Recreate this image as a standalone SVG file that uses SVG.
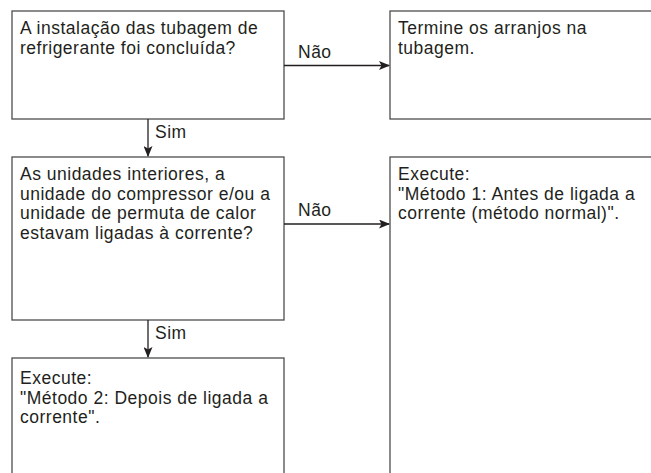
<svg xmlns="http://www.w3.org/2000/svg" width="651" height="473" viewBox="0 0 651 473">
<style>
.box{fill:#fff;stroke:#4d4d4d;stroke-width:1.3}
.t{font-family:"Liberation Sans",Arial,sans-serif;font-size:17.5px;letter-spacing:0.5px;fill:#231f20}
.c{stroke:#231f20;stroke-width:1.3;fill:none}
</style>
<defs>
<marker id="ah" markerWidth="11" markerHeight="9" refX="10" refY="4.5" orient="auto" markerUnits="userSpaceOnUse">
<path d="M0,0 L11,4.5 L0,9 L2.5,4.5 Z" fill="#231f20"/>
</marker>
</defs>
<rect width="651" height="473" fill="#fff"/>
<g id="q1">
<rect class="box" x="12" y="11" width="272" height="108"/>
<text class="t" x="20" y="34">A instalação das tubagem de</text>
<text class="t" x="20" y="53.5">refrigerante foi concluída?</text>
</g>
<g id="end1">
<rect class="box" x="390" y="11" width="270" height="108"/>
<text class="t" x="398" y="34">Termine os arranjos na</text>
<text class="t" x="398" y="53.5">tubagem.</text>
</g>
<g id="q2">
<rect class="box" x="12" y="157" width="272" height="163"/>
<text class="t" x="20" y="180">As unidades interiores, a</text>
<text class="t" x="20" y="199.5">unidade do compressor e/ou a</text>
<text class="t" x="20" y="219">unidade de permuta de calor</text>
<text class="t" x="20" y="238.5">estavam ligadas à corrente?</text>
</g>
<g id="m1">
<rect class="box" x="390" y="157" width="270" height="330"/>
<text class="t" x="398" y="180">Execute:</text>
<text class="t" x="398" y="199.5">"Método 1: Antes de ligada a</text>
<text class="t" x="398" y="219">corrente (método normal)".</text>
</g>
<g id="m2">
<rect class="box" x="12" y="358" width="272" height="130"/>
<text class="t" x="20" y="384">Execute:</text>
<text class="t" x="20" y="403.5">"Método 2: Depois de ligada a</text>
<text class="t" x="20" y="423">corrente".</text>
</g>
<g id="connectors">
<line class="c" x1="284" y1="65.5" x2="389" y2="65.5" marker-end="url(#ah)"/>
<text class="t" x="298" y="58">Não</text>
<line class="c" x1="148" y1="119" x2="148" y2="156" marker-end="url(#ah)"/>
<text class="t" x="155" y="138">Sim</text>
<line class="c" x1="284" y1="224" x2="389" y2="224" marker-end="url(#ah)"/>
<text class="t" x="298" y="215.5">Não</text>
<line class="c" x1="148" y1="320" x2="148" y2="357" marker-end="url(#ah)"/>
<text class="t" x="155" y="339">Sim</text>
</g>
</svg>
